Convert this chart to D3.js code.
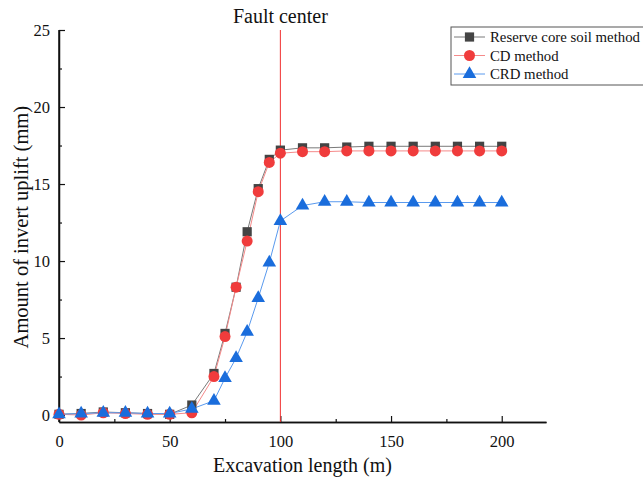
<!DOCTYPE html>
<html lang="en">
<head>
<meta charset="utf-8">
<script src="https://d3js.org/d3.v7.min.js"></script>
<style>
  body { margin: 0; background: #fff; }
  text { font-family: "Liberation Serif", "DejaVu Serif", serif; fill: #111; }
</style>
</head>
<body>
<script>
// data
var xs = [0, 10, 20, 30, 40, 50, 60, 70, 75, 80, 85, 90, 95, 100, 110, 120, 130, 140, 150, 160, 170, 180, 190, 200];
var reserve = [0.05, 0.1, 0.2, 0.15, 0.1, 0.05, 0.65, 2.7, 5.3, 8.3, 11.9, 14.7, 16.6, 17.2, 17.35, 17.35, 17.4, 17.45, 17.45, 17.45, 17.45, 17.45, 17.45, 17.45];
var cd = [0.05, 0.0, 0.15, 0.1, 0.05, 0.05, 0.15, 2.5, 5.1, 8.3, 11.3, 14.5, 16.4, 17.0, 17.1, 17.1, 17.15, 17.15, 17.15, 17.15, 17.15, 17.15, 17.15, 17.15];
var crd = [0.05, 0.1, 0.15, 0.15, 0.1, 0.1, 0.4, 0.93, 2.4, 3.7, 5.4, 7.6, 9.9, 12.6, 13.6, 13.85, 13.85, 13.8, 13.8, 13.8, 13.8, 13.8, 13.8, 13.8];
var seriesNames = ["Reserve core soil method", "CD method", "CRD method"];
var xTicks = [0, 50, 100, 150, 200];
var yTicks = [0, 5, 10, 15, 20, 25];
var faultX = 100;

var W = 643, H = 481;
var margin = {top: 30, right: 97, bottom: 59, left: 59};
var width = W - margin.left - margin.right;
var height = H - margin.top - margin.bottom;

var svg = d3.select("body").append("svg").attr("width", W).attr("height", H);
var main = svg.append("g").attr("transform", "translate(" + margin.left + "," + margin.top + ")");

var x = d3.scaleLinear().domain([0, 220]).range([0, width]);
var y = d3.scaleLinear().domain([-0.45, 25]).range([height, 0]);

// axes, ticks inside
main.append("g").attr("transform", "translate(0," + height + ")")
  .call(d3.axisBottom(x).tickValues(xTicks).tickSizeInner(-6).tickSizeOuter(0).tickPadding(13));
main.append("g").attr("transform", "translate(0," + height + ")")
  .call(d3.axisBottom(x).tickValues([25, 75, 125, 175]).tickSizeInner(-3).tickSizeOuter(0).tickFormat(""));
var yAxis = main.append("g")
  .call(d3.axisLeft(y).tickValues(yTicks).tickSizeInner(-6).tickSizeOuter(0).tickPadding(9));
main.append("g")
  .call(d3.axisLeft(y).tickValues([2.5, 7.5, 12.5, 17.5, 22.5]).tickSizeInner(-3).tickSizeOuter(0).tickFormat(""));
main.selectAll(".domain").attr("stroke", "#111").attr("stroke-width", 1.5);
main.selectAll(".tick line").attr("stroke", "#111").attr("stroke-width", 1.2);
main.selectAll(".tick text").style("font-family", "Liberation Serif").style("font-size", "16.5px").attr("fill", "#222");
yAxis.select(".domain").attr("d", "M0," + height + "V0");

// fault center line
main.append("line").attr("x1", x(faultX)).attr("x2", x(faultX)).attr("y1", 0).attr("y2", height)
  .attr("stroke", "#f03030").attr("stroke-width", 1);
main.append("text").attr("x", x(faultX)).attr("y", -7).attr("text-anchor", "middle")
  .style("font-size", "20px").text("Fault center");

var series = [
  {name: seriesNames[0], vals: reserve, line: "#7a7a7a", fill: "#444444", shape: d3.symbolSquare, size: 85},
  {name: seriesNames[1], vals: cd, line: "#f58a8a", fill: "#f03c3c", shape: d3.symbolCircle, size: 95},
  {name: seriesNames[2], vals: crd, line: "#5a9aee", fill: "#1a6ddc", shape: d3.symbolTriangle, size: 80}
];

var line = d3.line().x(function(d) { return x(d[0]); }).y(function(d) { return y(d[1]); });

series.forEach(function(s) {
  var pts = xs.map(function(v, i) { return [v, s.vals[i]]; });
  main.append("path").datum(pts).attr("d", line).attr("fill", "none")
    .attr("stroke", s.line).attr("stroke-width", 1);
});
series.forEach(function(s) {
  var pts = xs.map(function(v, i) { return [v, s.vals[i]]; });
  main.selectAll(null).data(pts).enter().append("path")
    .attr("transform", function(d) { return "translate(" + x(d[0]) + "," + y(d[1]) + ")"; })
    .attr("d", d3.symbol().type(s.shape).size(s.size))
    .attr("fill", s.fill);
});

// axis titles
svg.append("text").attr("x", margin.left + x(110)).attr("y", 472).attr("text-anchor", "middle")
  .style("font-size", "20px").text("Excavation length (m)");
svg.append("text").attr("transform", "translate(28," + (margin.top + y(12.2)) + ") rotate(-90)")
  .attr("text-anchor", "middle").style("font-size", "20.5px").text("Amount of invert uplift (mm)");

// legend
var lg = svg.append("g").attr("transform", "translate(451,27)");
lg.append("rect").attr("x", 0).attr("y", 0).attr("width", 196).attr("height", 58)
  .attr("fill", "#fff").attr("stroke", "#555").attr("stroke-width", 1);
series.forEach(function(s, i) {
  var yy = 10 + i * 18.5;
  lg.append("line").attr("x1", 3).attr("x2", 34).attr("y1", yy).attr("y2", yy)
    .attr("stroke", s.line).attr("stroke-width", 1);
  lg.append("path").attr("transform", "translate(18.5," + yy + ")")
    .attr("d", d3.symbol().type(s.shape).size(s.size)).attr("fill", s.fill);
  lg.append("text").attr("x", 39).attr("y", yy + 5).style("font-size", "14.8px").text(s.name);
});
</script>
</body>
</html>
